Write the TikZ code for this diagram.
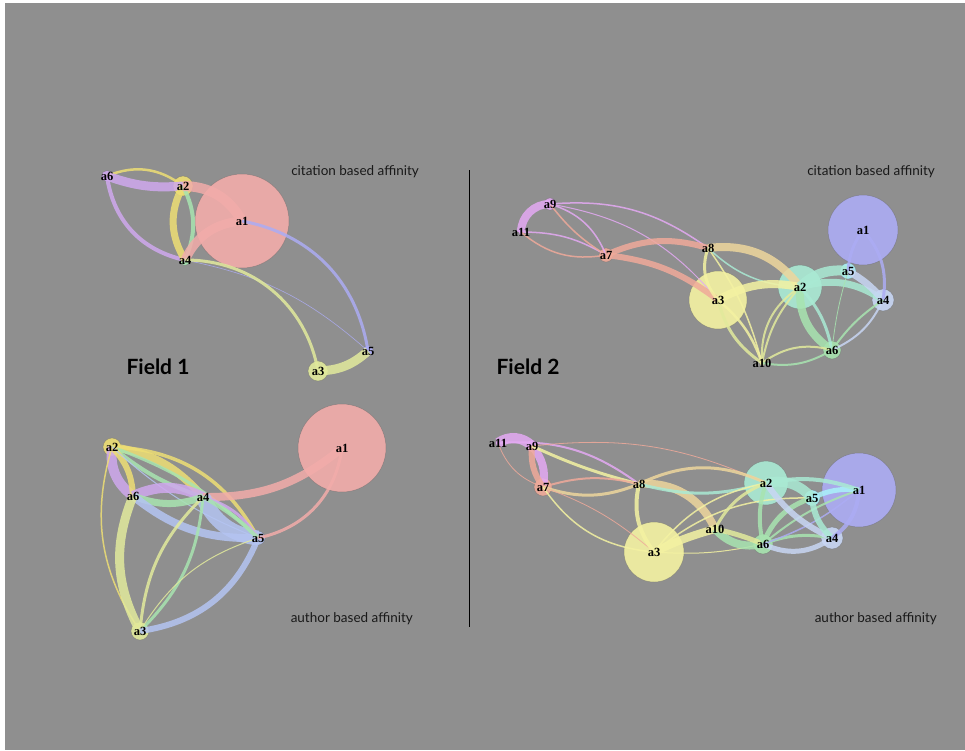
\documentclass[tikz,border=0pt]{standalone}
\usepackage{fontspec}
\newfontfamily\txtfont{Lato}
\newfontfamily\labfont{Liberation Serif}

\definecolor{bgray}{HTML}{8F8F8F}
\definecolor{cpink}{HTML}{F2ACAA}
\definecolor{cyel}{HTML}{EEDE74}
\definecolor{cyelg}{HTML}{E2EA9C}
\definecolor{cpurp}{HTML}{CFA8EE}
\definecolor{cgreen}{HTML}{A8E4B0}
\definecolor{cblue}{HTML}{ACACF4}
\definecolor{cblue2}{HTML}{B4C4F2}
\definecolor{clblue}{HTML}{C8D6F4}
\definecolor{ccyan}{HTML}{AAF2FA}
\definecolor{caqua}{HTML}{AAEAD4}
\definecolor{cyellow}{HTML}{F4F2A2}
\definecolor{corange}{HTML}{EED69C}
\definecolor{csalmon}{HTML}{F0AA9A}
\definecolor{cviolet}{HTML}{E4AAF4}

\tikzset{
  vert/.style={circle, draw=black!60, line width=0.5pt, draw opacity=0.5, fill opacity=0.9, inner sep=0pt},
  lab/.style={inner sep=0pt, font=\labfont\bfseries\fontsize{12.5}{13}\selectfont},
  ed/.style={draw opacity=0.85},
  affin/.style={anchor=east, inner sep=0pt, font=\txtfont\fontsize{13.5}{15}\selectfont, text=black!90},
  field/.style={inner sep=0pt, font=\txtfont\bfseries\fontsize{21}{24}\selectfont}
}

\begin{document}
\begin{tikzpicture}[x=1pt,y=-1pt]
\useasboundingbox (0,0) rectangle (965,750);
\fill[white] (0,0) rectangle (965,750);
\fill[bgray] (5,3) rectangle (965,750);

% field 1, citation based
\node[vert, fill=cpink, minimum size=94pt] (f1c1) at (242,221) {};
\node[vert, fill=cyel, minimum size=20pt] (f1c2) at (183,186) {};
\node[vert, fill=cyelg, minimum size=20pt] (f1c3) at (318,371) {};
\node[vert, fill=cgreen, minimum size=11pt] (f1c4) at (185,260) {};
\node[vert, fill=cblue, minimum size=11pt] (f1c5) at (368,351) {};
\node[vert, fill=cpurp, minimum size=11pt] (f1c6) at (107,176) {};

\draw[ed, cyel, line width=2.5pt] (f1c6.center) to[bend left=30] (f1c2.center);
\draw[ed, cpurp, line width=9pt] (f1c6.center) to[bend right=12] (f1c2.center);
\draw[ed, cpurp, line width=4pt] (f1c6.center) to[bend right=35] (f1c4.center);
\draw[ed, cyel, line width=7pt] (f1c2.center) to[bend right=30] (f1c4.center);
\draw[ed, cgreen, line width=4pt] (f1c2.center) to[bend left=25] (f1c4.center);
\draw[ed, cpink, line width=10pt] (f1c2.center) to[bend left=30] (f1c1.center);
\draw[ed, cpink, line width=9pt] (f1c4.center) to[bend left=30] (f1c1.center);
\draw[ed, cblue, line width=3pt] (f1c1.center) to[bend left=35] (f1c5.center);
\draw[ed, cblue, line width=0.6pt] (f1c4.center) to[bend left=15] (f1c5.center);
\draw[ed, cyelg, line width=3pt] (f1c4.center) to[bend left=40] (f1c3.center);
\draw[ed, cyelg, line width=9pt] (f1c3.center) to[bend right=20] (f1c5.center);

\node[lab] (f1c1t) at (f1c1) {a1};
\node[lab] (f1c2t) at (f1c2) {a2};
\node[lab] (f1c3t) at (f1c3) {a3};
\node[lab] (f1c4t) at (f1c4) {a4};
\node[lab] (f1c5t) at (f1c5) {a5};
\node[lab] (f1c6t) at (f1c6) {a6};

% field 2, citation based
\node[vert, fill=cblue, minimum size=70pt] (f2c1) at (863,230) {};
\node[vert, fill=caqua, minimum size=44pt] (f2c2) at (800,287) {};
\node[vert, fill=cyellow, minimum size=58pt] (f2c3) at (718,300) {};
\node[vert, fill=clblue, minimum size=22pt] (f2c4) at (883,300) {};
\node[vert, fill=ccyan, minimum size=16pt] (f2c5) at (848,271) {};
\node[vert, fill=cgreen, minimum size=18pt] (f2c6) at (832,350) {};
\node[vert, fill=csalmon, minimum size=14pt] (f2c7) at (606,255) {};
\node[vert, fill=corange, minimum size=7pt] (f2c8) at (708,248) {};
\node[vert, fill=cviolet, minimum size=12pt] (f2c9) at (550,204) {};
\node[vert, fill=cyellow, minimum size=5pt] (f2c10) at (762,363) {};
\node[vert, fill=cviolet, minimum size=5pt] (f2c11) at (521,232) {};

\draw[ed, cviolet, line width=8pt] (f2c9.center) to[bend right=45] (f2c11.center);
\draw[ed, cviolet, line width=1.5pt] (f2c11.center) to[bend left=15] (f2c7.center);
\draw[ed, csalmon, line width=1.5pt] (f2c7.center) to[bend left=25] (f2c11.center);
\draw[ed, csalmon, line width=1.5pt] (f2c7.center) to[bend left=10] (f2c9.center);
\draw[ed, cviolet, line width=1.5pt] (f2c9.center) to[bend left=25] (f2c7.center);
\draw[ed, cviolet, line width=1.5pt] (f2c9.center) to[bend left=20] (f2c8.center);
\draw[ed, cviolet, line width=1pt] (f2c9.center) to[bend left=20] (f2c3.center);
\draw[ed, csalmon, line width=6pt] (f2c7.center) to[bend left=20] (f2c8.center);
\draw[ed, csalmon, line width=6pt] (f2c7.center) to[bend left=15] (f2c3.center);
\draw[ed, corange, line width=8pt] (f2c8.center) to[bend left=30] (f2c2.center);
\draw[ed, cyellow, line width=3pt] (f2c8.center) to[bend right=30] (f2c3.center);
\draw[ed, caqua, line width=1.5pt] (f2c8.center) to[bend right=20] (f2c2.center);
\draw[ed, cyellow, line width=1.5pt] (f2c8.center) to[bend left=10] (f2c10.center);
\draw[ed, cyellow, line width=8pt] (f2c3.center) to[bend left=20] (f2c2.center);
\draw[ed, cyelg, line width=3pt] (f2c3.center) to[bend right=20] (f2c10.center);
\draw[ed, cyellow, line width=2.5pt] (f2c3.center) to[bend left=15] (f2c10.center);
\draw[ed, cyelg, line width=2pt] (f2c2.center) to[bend right=15] (f2c10.center);
\draw[ed, cyelg, line width=2pt] (f2c2.center) to[bend right=30] (f2c10.center);
\draw[ed, cgreen, line width=8pt] (f2c2.center) to[bend right=30] (f2c6.center);
\draw[ed, caqua, line width=3pt] (f2c2.center) to[bend left=15] (f2c6.center);
\draw[ed, caqua, line width=10pt] (f2c2.center) to[bend left=25] (f2c5.center);
\draw[ed, caqua, line width=7pt] (f2c2.center) to[bend left=25] (f2c4.center);
\draw[ed, clblue, line width=7pt] (f2c5.center) to[bend left=10] (f2c4.center);
\draw[ed, cblue, line width=3pt] (f2c1.center) to[bend left=25] (f2c4.center);
\draw[ed, cblue, line width=3pt] (f2c1.center) to[bend right=15] (f2c5.center);
\draw[ed, clblue, line width=2pt] (f2c4.center) to[bend left=20] (f2c6.center);
\draw[ed, cgreen, line width=2pt] (f2c6.center) to[bend left=10] (f2c4.center);
\draw[ed, cyelg, line width=2pt] (f2c10.center) to[bend left=25] (f2c6.center);
\draw[ed, cgreen, line width=2pt] (f2c10.center) to[bend right=20] (f2c6.center);
\draw[ed, cgreen, line width=0.8pt] (f2c6.center) to[bend left=5] (f2c5.center);

\node[lab] (f2c1t) at (f2c1) {a1};
\node[lab] (f2c2t) at (f2c2) {a2};
\node[lab] (f2c3t) at (f2c3) {a3};
\node[lab] (f2c4t) at (f2c4) {a4};
\node[lab] (f2c5t) at (f2c5) {a5};
\node[lab] (f2c6t) at (f2c6) {a6};
\node[lab] (f2c7t) at (f2c7) {a7};
\node[lab] (f2c8t) at (f2c8) {a8};
\node[lab] (f2c9t) at (f2c9) {a9};
\node[lab] (f2c10t) at (f2c10) {a10};
\node[lab] (f2c11t) at (f2c11) {a11};

% field 1, author based
\node[vert, fill=cpink, minimum size=88pt] (f1a1) at (342,448) {};
\node[vert, fill=cyel, minimum size=18pt] (f1a2) at (112,447) {};
\node[vert, fill=cyelg, minimum size=18pt] (f1a3) at (140,631) {};
\node[vert, fill=cgreen, minimum size=5pt] (f1a4) at (203,497) {};
\node[vert, fill=cblue2, minimum size=14pt] (f1a5) at (258,538) {};
\node[vert, fill=cpurp, minimum size=5pt] (f1a6) at (133,496) {};

\draw[ed, cyel, line width=8pt] (f1a2.center) to[bend left=20] (f1a4.center);
\draw[ed, cyel, line width=3.5pt] (f1a2.center) to[bend left=30] (f1a5.center);
\draw[ed, cgreen, line width=4pt] (f1a2.center) to[bend right=10] (f1a4.center);
\draw[ed, cgreen, line width=3pt] (f1a2.center) to[bend left=12] (f1a5.center);
\draw[ed, cpurp, line width=10pt] (f1a2.center) to[bend right=30] (f1a6.center);
\draw[ed, cyel, line width=6pt] (f1a2.center) to[bend left=20] (f1a6.center);
\draw[ed, cyel, line width=1.5pt] (f1a2.center) to[bend right=25] (f1a3.center);
\draw[ed, cblue2, line width=1pt] (f1a2.center) to[bend right=10] (f1a5.center);
\draw[ed, cpurp, line width=10pt] (f1a6.center) to[bend left=25] (f1a4.center);
\draw[ed, cgreen, line width=7pt] (f1a6.center) to[bend right=20] (f1a4.center);
\draw[ed, cblue2, line width=8pt] (f1a6.center) to[bend right=20] (f1a5.center);
\draw[ed, cyelg, line width=9pt] (f1a6.center) to[bend right=25] (f1a3.center);
\draw[ed, cpink, line width=8pt] (f1a4.center) to[bend right=20] (f1a1.center);
\draw[ed, cblue2, line width=15pt] (f1a4.center) to[bend right=30] (f1a5.center);
\draw[ed, cpurp, line width=3pt] (f1a4.center) to[bend left=20] (f1a5.center);
\draw[ed, cgreen, line width=4pt] (f1a4.center) to[bend left=8] (f1a5.center);
\draw[ed, cgreen, line width=3pt] (f1a4.center) to[bend left=20] (f1a3.center);
\draw[ed, cyelg, line width=3pt] (f1a3.center) to[bend left=20] (f1a4.center);
\draw[ed, cyelg, line width=1pt] (f1a3.center) to[bend left=20] (f1a5.center);
\draw[ed, cblue2, line width=6pt] (f1a3.center) to[bend right=30] (f1a5.center);
\draw[ed, cpink, line width=3pt] (f1a5.center) to[bend right=35] (f1a1.center);

\node[lab] (f1a1t) at (f1a1) {a1};
\node[lab] (f1a2t) at (f1a2) {a2};
\node[lab] (f1a3t) at (f1a3) {a3};
\node[lab] (f1a4t) at (f1a4) {a4};
\node[lab] (f1a5t) at (f1a5) {a5};
\node[lab] (f1a6t) at (f1a6) {a6};

% field 2, author based
\node[vert, fill=cblue, minimum size=74pt] (f2a1) at (859,490) {};
\node[vert, fill=caqua, minimum size=44pt] (f2a2) at (766,483) {};
\node[vert, fill=cyellow, minimum size=60pt] (f2a3) at (654,552) {};
\node[vert, fill=clblue, minimum size=22pt] (f2a4) at (832,538) {};
\node[vert, fill=ccyan, minimum size=16pt] (f2a5) at (812,498) {};
\node[vert, fill=cgreen, minimum size=20pt] (f2a6) at (763,544) {};
\node[vert, fill=csalmon, minimum size=18pt] (f2a7) at (543,487) {};
\node[vert, fill=corange, minimum size=6pt] (f2a8) at (639,484) {};
\node[vert, fill=cviolet, minimum size=12pt] (f2a9) at (532,446) {};
\node[vert, fill=cyellow, minimum size=5pt] (f2a10) at (715,529) {};
\node[vert, fill=cviolet, minimum size=5pt] (f2a11) at (498,443) {};

\draw[ed, cviolet, line width=10pt] (f2a11.center) to[bend left=40] (f2a9.center);
\draw[ed, cviolet, line width=8pt] (f2a9.center) to[bend left=25] (f2a7.center);
\draw[ed, csalmon, line width=6pt] (f2a9.center) to[bend right=20] (f2a7.center);
\draw[ed, cviolet, line width=2pt] (f2a11.center) to[bend left=20] (f2a8.center);
\draw[ed, cyellow, line width=3pt] (f2a9.center) to[bend right=5] (f2a8.center);
\draw[ed, csalmon, line width=0.8pt] (f2a9.center) to[bend left=15] (f2a2.center);
\draw[ed, csalmon, line width=0.8pt] (f2a11.center) to[bend right=25] (f2a7.center);
\draw[ed, csalmon, line width=2pt] (f2a7.center) to[bend left=15] (f2a8.center);
\draw[ed, corange, line width=3pt] (f2a7.center) to[bend right=20] (f2a8.center);
\draw[ed, csalmon, line width=0.8pt] (f2a7.center) to[bend left=10] (f2a3.center);
\draw[ed, cyellow, line width=1.5pt] (f2a7.center) to[bend right=25] (f2a3.center);
\draw[ed, corange, line width=3pt] (f2a8.center) to[bend left=25] (f2a2.center);
\draw[ed, corange, line width=8pt] (f2a8.center) to[bend left=35] (f2a10.center);
\draw[ed, caqua, line width=3pt] (f2a8.center) to[bend right=15] (f2a2.center);
\draw[ed, cyellow, line width=4pt] (f2a8.center) to[bend right=25] (f2a3.center);
\draw[ed, cyellow, line width=8pt] (f2a3.center) to[bend left=5] (f2a10.center);
\draw[ed, cyellow, line width=1.5pt] (f2a3.center) to[bend left=20] (f2a2.center);
\draw[ed, cyellow, line width=1.5pt] (f2a3.center) to[bend left=20] (f2a5.center);
\draw[ed, cyellow, line width=1pt] (f2a3.center) to[bend right=8] (f2a6.center);
\draw[ed, cgreen, line width=8pt] (f2a10.center) to[bend right=30] (f2a6.center);
\draw[ed, cyelg, line width=5pt] (f2a10.center) to[bend left=5] (f2a6.center);
\draw[ed, cgreen, line width=4pt] (f2a6.center) to[bend left=15] (f2a2.center);
\draw[ed, cgreen, line width=5pt] (f2a6.center) to[bend left=25] (f2a5.center);
\draw[ed, cgreen, line width=3pt] (f2a6.center) to[bend left=15] (f2a4.center);
\draw[ed, cgreen, line width=2pt] (f2a6.center) to[bend left=10] (f2a1.center);
\draw[ed, clblue, line width=5pt] (f2a6.center) to[bend right=30] (f2a4.center);
\draw[ed, cblue, line width=1.5pt] (f2a6.center) to[bend right=10] (f2a1.center);
\draw[ed, caqua, line width=10pt] (f2a2.center) to[bend left=30] (f2a5.center);
\draw[ed, clblue, line width=6pt] (f2a2.center) to[bend right=15] (f2a4.center);
\draw[ed, caqua, line width=6pt] (f2a5.center) to[bend right=20] (f2a4.center);
\draw[ed, ccyan, line width=5pt] (f2a5.center) to[bend left=15] (f2a1.center);
\draw[ed, cblue, line width=4pt] (f2a4.center) to[bend right=25] (f2a1.center);
\draw[ed, caqua, line width=4pt] (f2a2.center) to[bend left=15] (f2a1.center);
\draw[ed, cyelg, line width=3pt] (f2a2.center) to[bend right=20] (f2a10.center);

\node[lab] (f2a1t) at (f2a1) {a1};
\node[lab] (f2a2t) at (f2a2) {a2};
\node[lab] (f2a3t) at (f2a3) {a3};
\node[lab] (f2a4t) at (f2a4) {a4};
\node[lab] (f2a5t) at (f2a5) {a5};
\node[lab] (f2a6t) at (f2a6) {a6};
\node[lab] (f2a7t) at (f2a7) {a7};
\node[lab] (f2a8t) at (f2a8) {a8};
\node[lab] (f2a9t) at (f2a9) {a9};
\node[lab] (f2a10t) at (f2a10) {a10};
\node[lab] (f2a11t) at (f2a11) {a11};

% texts
\node[affin] (cit1) at (419,172) {citation based affinity};
\node[affin] (cit2) at (935,172) {citation based affinity};
\node[affin] (aut1) at (413,619) {author based affinity};
\node[affin] (aut2) at (937,619) {author based affinity};
\node[field] (fld1) at (158,367) {Field 1};
\node[field] (fld2) at (528,367) {Field 2};
\draw[black, line width=1pt] (469,170) -- (469,627);
\end{tikzpicture}
\end{document}
